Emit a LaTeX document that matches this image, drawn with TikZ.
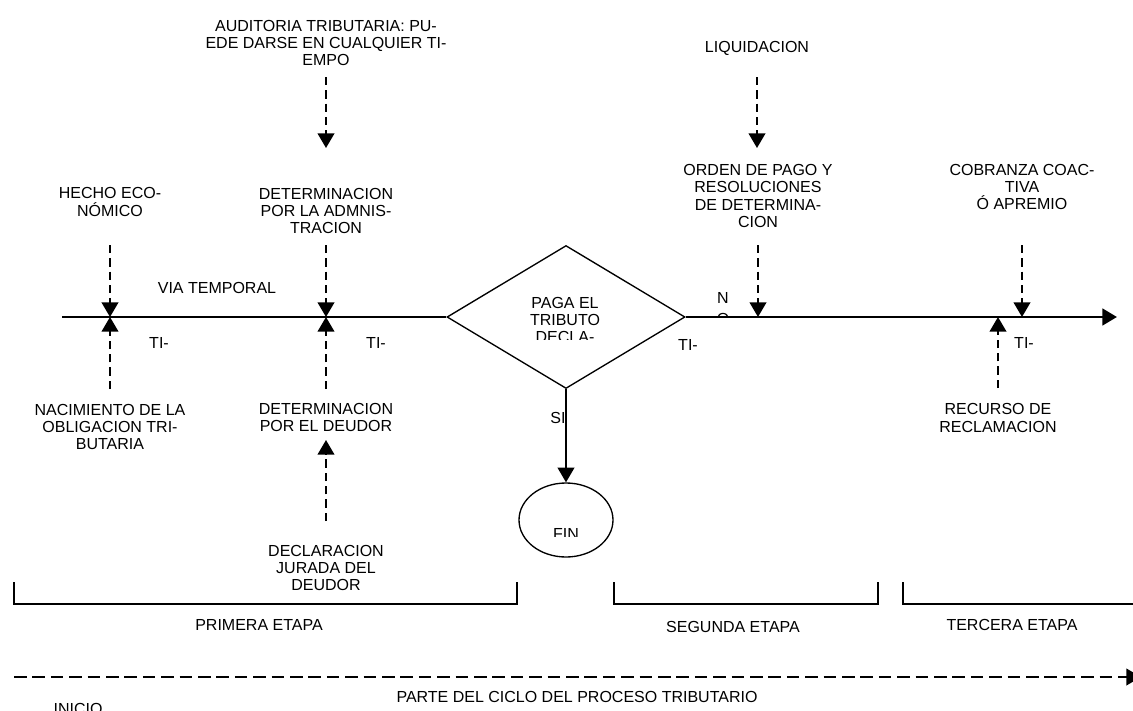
\documentclass[tikz,border=0pt]{standalone}
\usepackage{fontspec}
\setmainfont{Liberation Sans}
\usetikzlibrary{shapes.geometric,arrows.meta}

\tikzset{every picture/.style={line width=0.75pt}}
\tikzset{
  lbl/.style={align=center, inner sep=0pt, font=\fontsize{12}{13}\selectfont},
  punta/.style={-{Triangle[length=11pt,width=12.5pt]}},
  guia/.style={punta, dash pattern=on 6.2pt off 3.8pt, line width=1.5pt},
  eje/.style={line width=2pt},
  llave/.style={line width=1pt},
}

\begin{document}
\begin{tikzpicture}[x=0.75pt,y=0.75pt,yscale=-1,xscale=1]
    \useasboundingbox (0,0) rectangle (1133,711);

    %Shape: Diamond
    \node [draw, diamond, line width=1pt, inner sep=0pt, minimum width=178.5pt, minimum height=107.25pt] (pago) at (566,317) {};
    %Shape: Ellipse
    \node [draw, ellipse, line width=1pt, inner sep=0pt, minimum width=70.5pt, minimum height=55.5pt] (fin) at (566,520) {};

    %Points on the time line
    \coordinate (origen) at (62,317);
    \coordinate (destino) at (1117,317);
    \coordinate (t1) at (110,317);
    \coordinate (t2) at (326,317);
    \coordinate (t3) at (758,317);
    \coordinate (t4) at (1022,317);
    \coordinate (t5) at (998,317);

    % Text Node
    \node [lbl] (hecho) at (110,202) {HECHO ECO-\\NÓMICO};
    % Text Node
    \node [lbl] (nacim) at (110,427) {NACIMIENTO DE LA\\OBLIGACION TRI-\\BUTARIA};
    % Text Node
    \node [lbl] (detadm) at (326,211) {DETERMINACION\\POR LA ADMNIS-\\TRACION};
    % Text Node
    \node [lbl] (detdeu) at (326,417.5) {DETERMINACION\\POR EL DEUDOR};
    % Text Node
    \node [lbl] (declar) at (326,568) {DECLARACION\\JURADA DEL\\DEUDOR};
    % Text Node
    \node [lbl] (audit) at (326,43) {AUDITORIA TRIBUTARIA: PU-\\EDE DARSE EN CUALQUIER TI-\\EMPO};
    % Text Node
    \node [lbl] (liquid) at (757,48) {LIQUIDACION};
    % Text Node
    \node [lbl] (orden) at (758,196) {ORDEN DE PAGO Y\\RESOLUCIONES\\DE DETERMINA-\\CION};
    % Text Node
    \node [lbl] (cobranza) at (1022,187) {COBRANZA COAC-\\TIVA\\Ó APREMIO};
    % Text Node
    \node [lbl] (recurso) at (998,418) {RECURSO DE\\RECLAMACION};
    % Text Node
    \node [lbl] (via) at (217,288) {VIA TEMPORAL};
    % Text Node
    \node [lbl] (ti1) at (159,343) {TI-};
    \node [lbl] (ti2) at (376,343) {TI-};
    \node [lbl] (ti3) at (688,345) {TI-};
    \node [lbl] (ti4) at (1024,343) {TI-};
    % Text Node
    \node [lbl] (si) at (558,418) {SI};

    %cut texts
    \begin{scope}
      \clip (450,250) rectangle (680,339);
      \node [lbl] (pagotxt) at (565,320) {PAGA EL\\TRIBUTO\\DECLA-};
    \end{scope}
    \begin{scope}
      \clip (700,280) rectangle (750,317);
      \node [lbl, font=\fontsize{12}{15.5}\selectfont] (no) at (723,308.4) {N\\O};
    \end{scope}
    \begin{scope}
      \clip (520,500) rectangle (612,536);
      \node [lbl] (fintxt) at (566,533.7) {FIN};
    \end{scope}

    %Straight Lines
    \draw [eje] (origen) -- (pago.west);
    \draw [eje, punta] (pago.east) -- (destino);
    \draw [line width=1.3pt, punta] (pago.south) -- (fin.north);

    %Dashed arrows
    \coordinate (hecho-s) at (110,245);
    \coordinate (nacim-n) at (110,389);
    \coordinate (detadm-s) at (326,245);
    \coordinate (detdeu-n) at (326,389);
    \coordinate (detdeu-s) at (326,440);
    \coordinate (declar-n) at (326,521);
    \coordinate (audit-s) at (326,77);
    \coordinate (audit-f) at (326,148);
    \coordinate (liquid-s) at (757,77);
    \coordinate (liquid-f) at (757,148);
    \coordinate (orden-s) at (758,245);
    \coordinate (cobranza-s) at (1022,245);
    \coordinate (recurso-n) at (998,388);
    \draw [guia] (hecho-s) -- (t1);
    \draw [guia] (nacim-n) -- (t1);
    \draw [guia] (detadm-s) -- (t2);
    \draw [guia] (detdeu-n) -- (t2);
    \draw [guia] (declar-n) -- (detdeu-s);
    \draw [guia] (audit-s) -- (audit-f);
    \draw [guia] (liquid-s) -- (liquid-f);
    \draw [guia] (orden-s) -- (t3);
    \draw [guia] (cobranza-s) -- (t4);
    \draw [guia] (recurso-n) -- (t5);

    %Brackets
    \draw [llave] (14,582) -- (14,604) -- (517,604) -- (517,582);
    \draw [llave] (614,582) -- (614,604) -- (878,604) -- (878,582);
    \draw [llave] (903,582) -- (903,604) -- (1140,604);
    % Text Node
    \node [lbl] (etapa1) at (259,625) {PRIMERA ETAPA};
    \node [lbl] (etapa2) at (733,627) {SEGUNDA ETAPA};
    \node [lbl] (etapa3) at (1012,625) {TERCERA ETAPA};

    %Cycle arrow
    \coordinate (ciclo-a) at (14,677);
    \coordinate (ciclo-b) at (1141,677);
    \draw [punta, dash pattern=on 9.5pt off 4.3pt, line width=1.5pt] (ciclo-a) -- (ciclo-b);
    % Text Node
    \node [lbl] (ciclo) at (577,697) {PARTE DEL CICLO DEL PROCESO TRIBUTARIO};
    \node [lbl] (inicio) at (78,709) {INICIO};

\end{tikzpicture}
\end{document}
